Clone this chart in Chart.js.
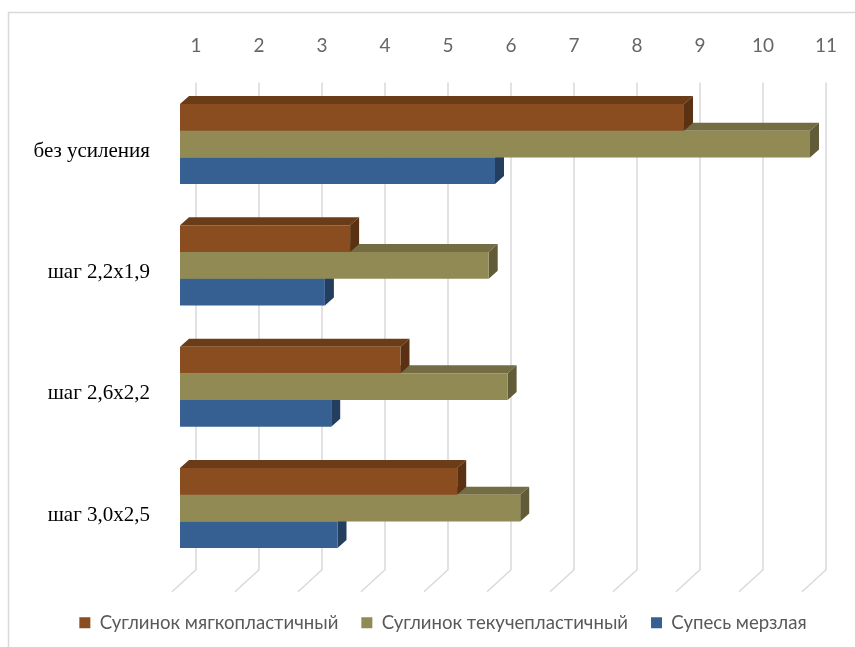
<!DOCTYPE html>
<html lang="ru">
<head>
<meta charset="utf-8">
<title>Сравнение вариантов усиления</title>
<script src="https://cdn.jsdelivr.net/npm/chart.js@4.4.1/dist/chart.umd.min.js"></script>
<style>
    html, body { margin: 0; padding: 0; background: #fff; overflow: hidden; }
    #wrap { position: relative; width: 855px; height: 647px; }
</style>
</head>
<body>
<div id="wrap"><canvas id="chart" width="855" height="647"></canvas></div>
<script>
const categories = ['без усиления', 'шаг 2,2x1,9', 'шаг 2,6x2,2', 'шаг 3,0x2,5'];
const seriesNames = ['Суглинок мягкопластичный', 'Суглинок текучепластичный', 'Супесь мерзлая'];
const suglinokMyagko = [9, 3.7, 4.5, 5.4];
const suglinokTekuche = [11, 5.9, 6.2, 6.4];
const supesMerzlaya = [6, 3.3, 3.4, 3.5];
const tickValues = [1, 2, 3, 4, 5, 6, 7, 8, 9, 10, 11];

// front / top / side shades for each series
const shades = [
    {front: '#8a4d1f', top: '#6b3c18', side: '#5a3213'},
    {front: '#928a54', top: '#746d44', side: '#615b37'},
    {front: '#376092', top: '#2c4d75', side: '#233e5f'}
];

const DX = 9, DY = 8;          // bar depth
const WALL = 16, FLOOR = 8;    // back wall / floor edge offsets from the bar front plane

function poly(ctx, pts) {
    ctx.beginPath();
    ctx.moveTo(pts[0][0], pts[0][1]);
    for (let i = 1; i < pts.length; i++) ctx.lineTo(pts[i][0], pts[i][1]);
    ctx.closePath();
    ctx.fill();
}

const depthPlugin = {
    id: 'depth',
    beforeDraw(chart) {
        const {ctx, width, height} = chart;
        ctx.save();
        ctx.strokeStyle = '#d9d9d9';
        ctx.lineWidth = 1.5;
        ctx.beginPath();
        ctx.moveTo(8.5, height);
        ctx.lineTo(8.5, 12.5);
        ctx.lineTo(width, 12.5);
        ctx.stroke();
        ctx.restore();
    },
    beforeDatasetsDraw(chart) {
        const {ctx, chartArea, scales: {x}} = chart;
        ctx.save();

        // back wall lines bending onto the floor
        ctx.strokeStyle = '#d9d9d9';
        ctx.lineWidth = 1.5;
        tickValues.forEach(v => {
            const xf = x.getPixelForValue(v);
            ctx.beginPath();
            ctx.moveTo(xf + WALL, chartArea.top - 1);
            ctx.lineTo(xf + WALL, chartArea.bottom + 1);
            ctx.lineTo(xf - FLOOR, chartArea.bottom + 23);
            ctx.stroke();
        });

        // top and side faces, lowest bar first
        for (let d = chart.data.datasets.length - 1; d >= 0; d--) {
            const meta = chart.getDatasetMeta(d);
            const shade = shades[d];
            meta.data.forEach(bar => {
                const p = bar.getProps(['x', 'y', 'base', 'height'], true);
                const top = p.y - p.height / 2, bottom = p.y + p.height / 2;
                ctx.fillStyle = shade.top;
                poly(ctx, [[p.base, top], [p.base + DX, top - DY], [p.x + DX, top - DY], [p.x, top]]);
                ctx.fillStyle = shade.side;
                poly(ctx, [[p.x, top], [p.x + DX, top - DY], [p.x + DX, bottom - DY], [p.x, bottom]]);
            });
        }
        ctx.restore();
    }
};

new Chart(document.getElementById('chart').getContext('2d'), {
    type: 'bar',
    data: {
        labels: categories,
        datasets: [
            {label: seriesNames[0], data: suglinokMyagko, backgroundColor: shades[0].front},
            {label: seriesNames[1], data: suglinokTekuche, backgroundColor: shades[1].front},
            {label: seriesNames[2], data: supesMerzlaya, backgroundColor: shades[2].front}
        ]
    },
    options: {
        indexAxis: 'y',
        responsive: false,
        animation: false,
        devicePixelRatio: 1,
        layout: {padding: {left: 31, right: 0, top: 0, bottom: 5}},
        datasets: {bar: {base: 1, borderWidth: 0, categoryPercentage: 0.66, barPercentage: 1}},
        scales: {
            x: {
                position: 'top',
                min: 1,
                max: 11.714,   // leaves room right of 11 for the depth
                grid: {display: false},
                border: {display: false},
                afterFit(scale) { scale.height = 83.4; },
                afterBuildTicks(scale) { scale.ticks = tickValues.map(v => ({value: v})); },
                ticks: {
                    labelOffset: WALL,
                    padding: 18,
                    color: '#666666',
                    font: {family: 'Lato', size: 19}
                }
            },
            y: {
                grid: {display: false},
                border: {display: false},
                afterFit(scale) { scale.width = 149; },
                ticks: {
                    labelOffset: 7,
                    padding: 22,
                    color: '#000',
                    font: {family: '"Liberation Serif", "Times New Roman", serif', size: 21}
                }
            }
        },
        plugins: {
            tooltip: {enabled: false},
            legend: {
                position: 'bottom',
                // empty title only pushes the legend row down
                title: {display: true, text: '', padding: 0, font: {size: 10, lineHeight: 2.17}},
                labels: {
                    boxWidth: 11,
                    boxHeight: 11,
                    padding: 23,
                    color: '#595959',
                    font: {family: 'Lato', size: 18.6}
                }
            }
        }
    },
    plugins: [depthPlugin]
});
</script>
</body>
</html>
